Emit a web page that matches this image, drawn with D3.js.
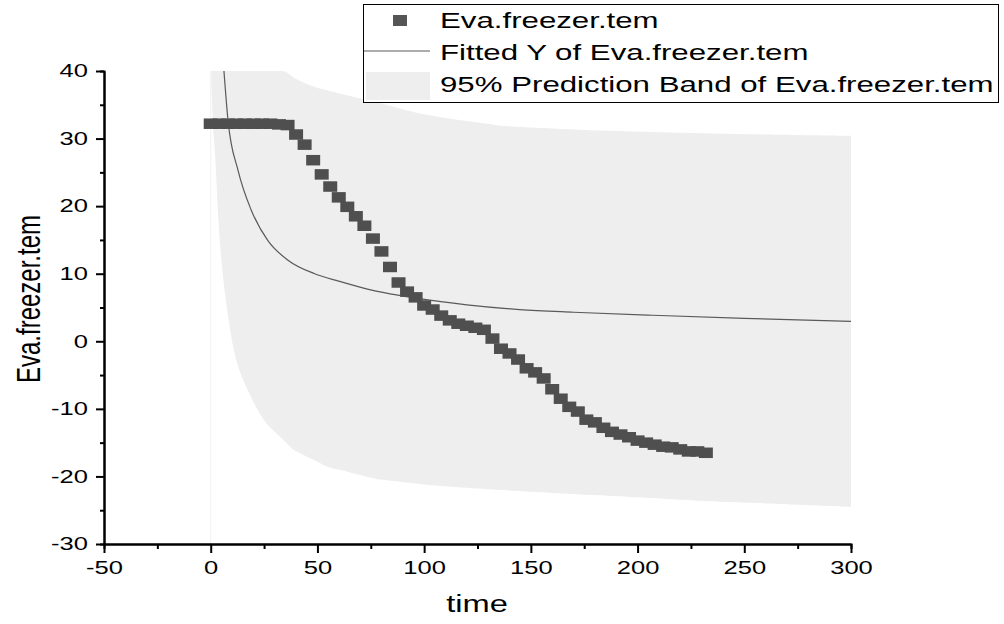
<!DOCTYPE html>
<html>
<head>
<meta charset="utf-8">
<script src="https://cdn.jsdelivr.net/npm/d3@7"></script>
<style>
  body { margin: 0; background: #fff; }
  svg { font-family: "Liberation Sans", Arial, sans-serif; }
</style>
</head>
<body>
<svg id="chart" width="1004" height="624"></svg>
<script>
// measured series (time, temperature)
var time = [0,4,8,12,16,20,24,28,32,36,40,44,48,52,56,60,64,68,72,76,80,84,88,92,96,100,104,108,112,116,120,124,128,132,136,140,144,148,152,156,160,164,168,172,176,180,184,188,192,196,200,204,208,212,216,220,224,228,232];
var temp = [32.2,32.2,32.2,32.2,32.2,32.2,32.2,32.2,32.1,32.0,30.6,29.1,26.8,24.7,22.9,21.3,19.9,18.5,17.1,15.2,13.3,11.0,8.7,7.35,6.5,5.3,4.7,3.8,3.1,2.6,2.3,2.0,1.7,0.4,-1.1,-1.8,-2.7,-4.0,-4.6,-5.5,-7.1,-8.5,-9.7,-10.4,-11.6,-12.0,-12.8,-13.4,-13.8,-14.2,-14.7,-15.0,-15.3,-15.6,-15.7,-16.0,-16.3,-16.3,-16.5];

// fitted curve
var fitT = [6.2,8.1,12.8,19,26.8,36.2,48.7,60,74.4,97.8,120,144.7,170,207,250,300];
var fitY = [40,32.7,25.3,19.4,14.9,12.0,10.0,8.9,7.65,6.3,5.4,4.7,4.3,3.85,3.4,2.96];

// prediction band edges
var upT = [0.2,34,40,48,60,80,100,136,180,220,260,300];
var upY = [40,40,38.8,37.7,36.7,35.2,33.6,31.9,31.2,30.85,30.6,30.4];
var loT = [0.2,0.47,1.2,2.2,3.5,5,8,12,17.3,26,39,55,78,100,135,182,229,300];
var loY = [40,36.7,31.5,26.8,18.5,12.0,4.0,-2.8,-7.2,-12.1,-16.1,-18.6,-20.4,-21.2,-22.0,-22.8,-23.6,-24.5];

var xTicks = [-50,0,50,100,150,200,250,300];
var yTicks = [-30,-20,-10,0,10,20,30,40];

var sx = 1.42; // the picture is stretched sideways
var svg = d3.select("#chart");
var x = d3.scaleLinear().domain([-50, 300]).range([104, 851]);
var y = d3.scaleLinear().domain([-30, 40]).range([544, 71]);

svg.append("clipPath").attr("id", "plotclip")
   .append("rect").attr("x", 104).attr("y", 71).attr("width", 747).attr("height", 473);

var plot = svg.append("g").attr("clip-path", "url(#plotclip)");

// band: merge both edges onto a common time grid
var bandT = Array.from(new Set(upT.concat(loT))).sort(d3.ascending);
var upI = d3.scaleLinear().domain(upT).range(upY);
var loI = d3.scaleLinear().domain(loT).range(loY);
var band = bandT.map(function(t) {
    var i = loT.indexOf(t), j = upT.indexOf(t);
    return {t: t, lo: i >= 0 ? loY[i] : loI(t), hi: j >= 0 ? upY[j] : upI(t)};
});
plot.append("line")
    .attr("x1", x(0)).attr("x2", x(0)).attr("y1", y(-30)).attr("y2", y(40))
    .attr("stroke", "#f1f1f1").attr("stroke-width", 1);
plot.append("path")
    .datum(band)
    .attr("fill", "#eeeeee")
    .attr("d", d3.area()
        .x(function(d){ return x(d.t); })
        .y0(function(d){ return y(d.lo); })
        .y1(function(d){ return y(d.hi); })
        .curve(d3.curveCatmullRom.alpha(0.5)));

var fit = fitT.map(function(t, i){ return [t, fitY[i]]; });
plot.append("path")
    .datum(fit)
    .attr("fill", "none")
    .attr("stroke", "#5a5a5a")
    .attr("stroke-width", 1.2)
    .attr("d", d3.line()
        .x(function(d){ return x(d[0]); })
        .y(function(d){ return y(d[1]); })
        .curve(d3.curveMonotoneX));

var sqW = 14, sqH = 10.5;
svg.append("g").selectAll("rect")
   .data(time)
   .enter().append("rect")
   .attr("x", function(d){ return x(d) - sqW/2; })
   .attr("y", function(d, i){ return y(temp[i]) - sqH/2; })
   .attr("width", sqW)
   .attr("height", sqH)
   .attr("fill", "#4f4f4f");

// axes
function styleAxis(g) {
    g.selectAll("path").attr("stroke", "#000").attr("stroke-width", 2);
    g.selectAll("line").attr("stroke", "#000").attr("stroke-width", 2);
    g.selectAll("text").attr("fill", "#000").style("font-size", "18px")
     .style("font-family", "Liberation Sans, Arial, sans-serif");
}
var xMinor = svg.append("g").attr("transform", "translate(0,544)")
   .call(d3.axisBottom(x).tickValues(d3.range(-25, 300, 50)).tickSize(5).tickFormat(""));
styleAxis(xMinor);
var xAxis = svg.append("g").attr("transform", "translate(0,544)")
   .call(d3.axisBottom(x).tickValues(xTicks).tickSize(9).tickSizeOuter(0).tickPadding(8)
         .tickFormat(function(d){ return String(d); }));
styleAxis(xAxis);
xAxis.selectAll("text").attr("transform", "scale(" + sx + ",1)");

var yMinor = svg.append("g").attr("transform", "translate(104,0)")
   .call(d3.axisLeft(y).tickValues(d3.range(-25, 40, 10)).tickSize(4).tickFormat(""));
styleAxis(yMinor);
var yAxis = svg.append("g").attr("transform", "translate(104,0)")
   .call(d3.axisLeft(y).tickValues(yTicks).tickSize(8).tickSizeOuter(0)
         .tickFormat(function(d){ return String(d); }));
styleAxis(yAxis);
yAxis.selectAll("text").attr("x", -16 / sx).attr("transform", "scale(" + sx + ",1)");

svg.append("text")
   .attr("transform", "translate(477,612) scale(" + sx + ",1)")
   .attr("text-anchor", "middle")
   .style("font-size", "23px")
   .text("time");
svg.append("text")
   .attr("transform", "translate(40,299) scale(" + sx + ",1) rotate(-90)")
   .attr("text-anchor", "middle")
   .style("font-size", "24px")
   .text("Eva.freezer.tem");

// legend
var lg = svg.append("g");
lg.append("rect").attr("x", 363.5).attr("y", 4.5).attr("width", 635).attr("height", 98)
  .attr("fill", "#fff").attr("stroke", "#000").attr("stroke-width", 1);
lg.append("rect").attr("x", 393).attr("y", 15).attr("width", 14).attr("height", 11).attr("fill", "#555");
lg.append("line").attr("x1", 364).attr("x2", 430).attr("y1", 51).attr("y2", 51)
  .attr("stroke", "#5a5a5a").attr("stroke-width", 1.2);
lg.append("rect").attr("x", 366).attr("y", 72).attr("width", 64).attr("height", 28).attr("fill", "#eeeeee");
var legendText = ["Eva.freezer.tem", "Fitted Y of Eva.freezer.tem", "95% Prediction Band of Eva.freezer.tem"];
lg.selectAll("text.lab").data(legendText).enter().append("text")
  .attr("transform", function(d, i){ return "translate(440," + (28 + i * 32) + ") scale(" + sx + ",1)"; })
  .style("font-size", "22px")
  .text(function(d){ return d; });
</script>
</body>
</html>
